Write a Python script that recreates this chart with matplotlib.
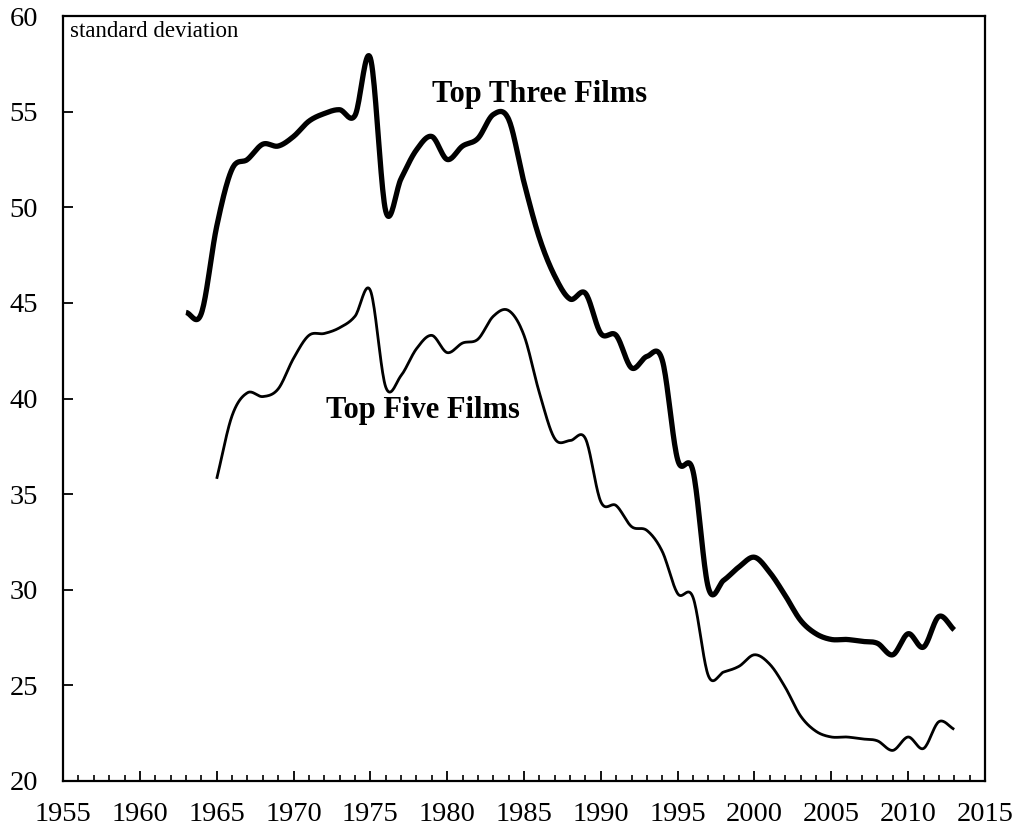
import numpy as np
import matplotlib
matplotlib.use("Agg")
import matplotlib.pyplot as plt
from matplotlib.ticker import MultipleLocator

plt.rcParams['font.family'] = ['Liberation Serif', 'DejaVu Serif']

# yearly values
years_three = list(range(1963, 2014))
top_three = [44.5, 44.45, 49.0, 52.0, 52.5, 53.3, 53.2, 53.7, 54.5, 54.9,
             55.1, 54.8, 57.8, 49.8, 51.5, 53.0, 53.7, 52.5, 53.2, 53.6,
             54.85, 54.6, 51.3, 48.4, 46.4, 45.2, 45.5, 43.4, 43.3, 41.6,
             42.2, 42.0, 36.8, 36.2, 30.1, 30.5, 31.2, 31.7, 30.9, 29.7,
             28.4, 27.7, 27.4, 27.4, 27.3, 27.2, 26.6, 27.7, 27.0, 28.6,
             27.9]

years_five = list(range(1965, 2014))
top_five = [35.8, 39.1, 40.3, 40.1, 40.5, 42.1, 43.3, 43.4, 43.7, 44.3,
            45.65, 40.6, 41.2, 42.6, 43.3, 42.4, 42.9, 43.1, 44.3, 44.6,
            43.3, 40.3, 37.9, 37.8, 37.9, 34.6, 34.4, 33.3, 33.1, 32.0,
            29.8, 29.6, 25.5, 25.7, 26.0, 26.6, 26.1, 24.9, 23.4, 22.6,
            22.3, 22.3, 22.2, 22.1, 21.6, 22.3, 21.7, 23.1, 22.7]


def smooth(x, y, n=20):
    # catmull-rom curve through the points, like a smoothed line in a spreadsheet
    x = np.asarray(x, float)
    y = np.asarray(y, float)
    px = np.concatenate([[2 * x[0] - x[1]], x, [2 * x[-1] - x[-2]]])
    py = np.concatenate([[2 * y[0] - y[1]], y, [2 * y[-1] - y[-2]]])
    t = np.linspace(0, 1, n, endpoint=False)
    xs, ys = [], []
    for i in range(1, len(px) - 2):
        for p, out in ((px, xs), (py, ys)):
            p0, p1, p2, p3 = p[i - 1], p[i], p[i + 1], p[i + 2]
            out.extend(0.5 * (2 * p1 + (-p0 + p2) * t
                              + (2 * p0 - 5 * p1 + 4 * p2 - p3) * t ** 2
                              + (-p0 + 3 * p1 - 3 * p2 + p3) * t ** 3))
    xs.append(x[-1])
    ys.append(y[-1])
    return np.array(xs), np.array(ys)


fig = plt.figure(figsize=(10.17, 8.26), dpi=100)
ax = fig.add_axes([0.062, 0.0545, 0.9065, 0.9261])

sx, sy = smooth(years_three, top_three)
ax.plot(sx, sy, color='black', lw=3.8, solid_capstyle='butt')
sx, sy = smooth(years_five, top_five)
ax.plot(sx, sy, color='black', lw=2.0, solid_capstyle='butt')

ax.set_xlim(1955, 2015)
ax.set_ylim(20, 60)
ax.xaxis.set_major_locator(MultipleLocator(5))
ax.xaxis.set_minor_locator(MultipleLocator(1))
ax.yaxis.set_major_locator(MultipleLocator(5))
ax.tick_params(axis='x', which='major', direction='in', length=7, width=1.3,
               labelsize=20.5, pad=15)
ax.tick_params(axis='x', which='minor', direction='in', length=4, width=1.2)
ax.tick_params(axis='y', which='major', direction='in', length=7, width=1.3,
               labelsize=20.5, pad=18)
for s in ax.spines.values():
    s.set_linewidth(1.6)

ax.text(0.007, 0.993, 'standard deviation', transform=ax.transAxes,
        ha='left', va='top', fontsize=16.5)
ax.text(1986.0, 55.5, 'Top Three Films', ha='center', va='baseline',
        fontsize=22, fontweight='bold')
ax.text(1978.45, 39.0, 'Top Five Films', ha='center', va='baseline',
        fontsize=22, fontweight='bold')

fig.savefig('out.png', dpi=100)
